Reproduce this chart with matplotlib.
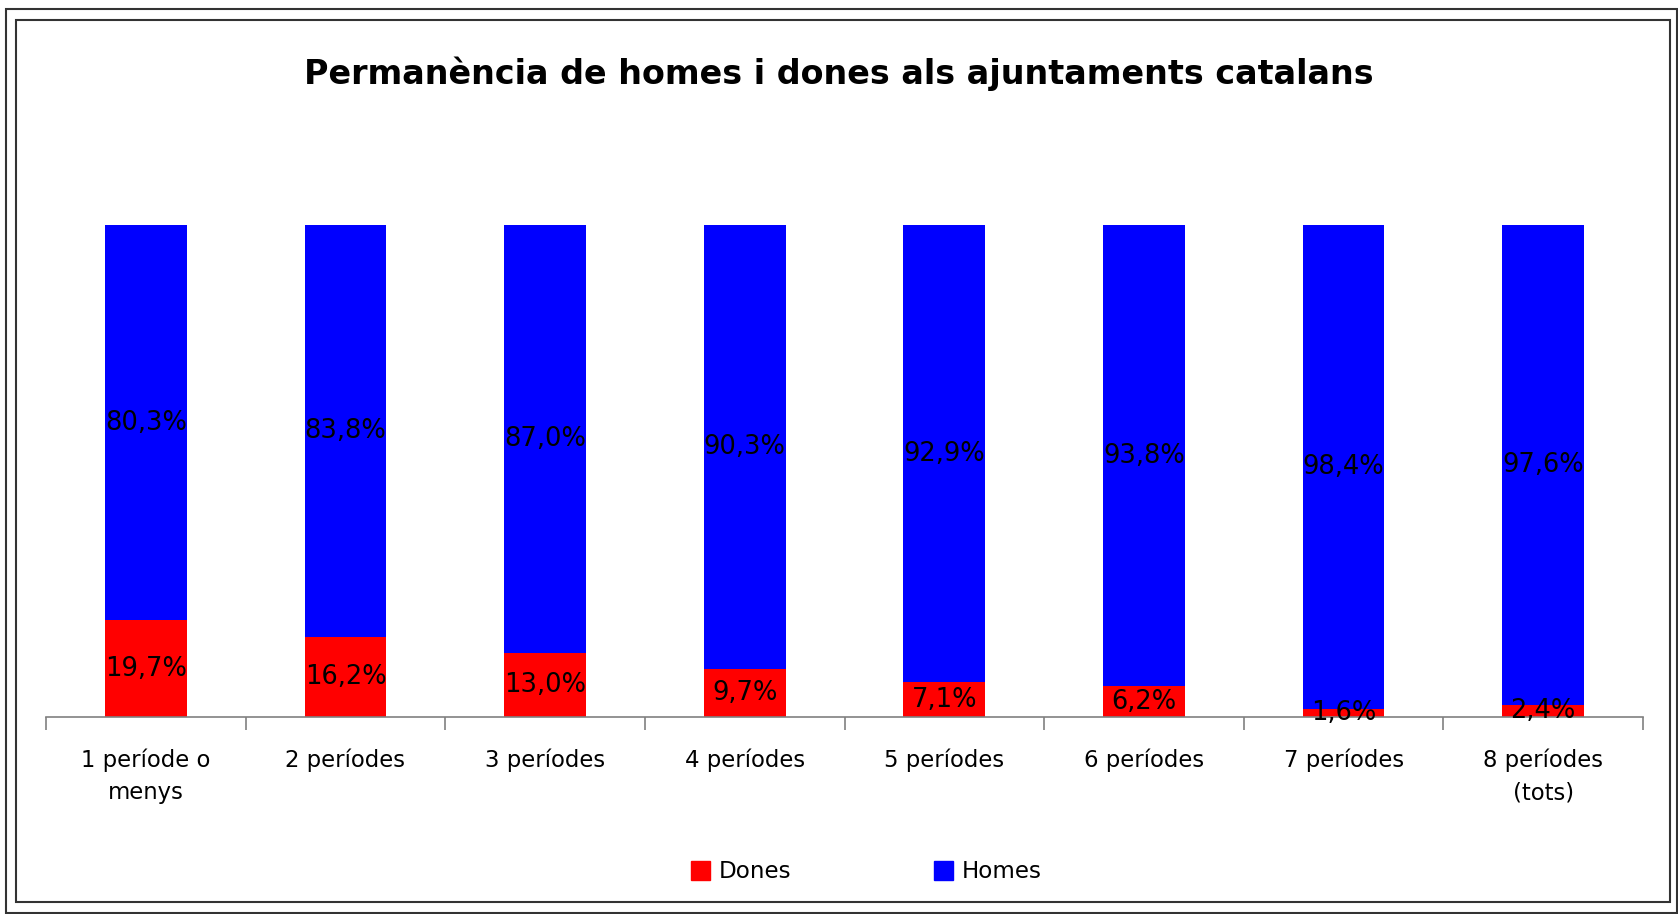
import matplotlib
matplotlib.use("Agg")
import matplotlib.pyplot as plt
from matplotlib.patches import Rectangle, Patch
import numpy as np

categories = ["1 període o\nmenys", "2 períodes", "3 períodes", "4 períodes",
              "5 períodes", "6 períodes", "7 períodes", "8 períodes\n(tots)"]
dones = [19.7, 16.2, 13.0, 9.7, 7.1, 6.2, 1.6, 2.4]
homes = [80.3, 83.8, 87.0, 90.3, 92.9, 93.8, 98.4, 97.6]
title = "Permanència de homes i dones als ajuntaments catalans"

W, H = 1678, 914
fig = plt.figure(figsize=(W / 100, H / 100), dpi=100)
plt.rcParams['font.family'] = ['DejaVu Sans']

# borders
fig.patches.append(Rectangle((6 / W, 1 - 913 / H), (1677 - 6) / W, (913 - 9) / H,
                             transform=fig.transFigure, fill=False, ec="#333333", lw=1.5))
fig.patches.append(Rectangle((16 / W, 1 - 902 / H), (1670 - 16) / W, (902 - 20) / H,
                             transform=fig.transFigure, fill=False, ec="#333333", lw=1.5))

left, right, top, bottom = 46, 1643, 225, 717
ax = fig.add_axes([left / W, 1 - bottom / H, (right - left) / W, (bottom - top) / H])

x = np.arange(len(categories))
d = np.array(dones) / 100
h = np.array(homes) / 100
bw = 0.41
ax.bar(x, d, bw, color="#FF0000", label="Dones")
ax.bar(x, h, bw, bottom=d, color="#0000FF", label="Homes")

dfs = 18.5
for i in range(len(x)):
    ax.text(x[i], d[i] / 2, f"{dones[i]:.1f}%".replace(".", ","), ha="center", va="center", fontsize=dfs)
    ax.text(x[i], d[i] + h[i] / 2, f"{homes[i]:.1f}%".replace(".", ","), ha="center", va="center", fontsize=dfs)

fs = 16.4
ax.set_xlim(-0.5, len(categories) - 0.5)
ax.set_ylim(0, 1)
for s in ["top", "right", "left"]:
    ax.spines[s].set_visible(False)
ax.spines["bottom"].set_color("#808080")
ax.spines["bottom"].set_linewidth(1.2)
ax.set_yticks([])
ax.set_xticks(x)
ax.set_xticklabels(categories, fontsize=fs, linespacing=1.5)
ax.tick_params(axis="x", which="major", length=0, pad=23)
ax.set_xticks(np.arange(-0.5, len(categories), 1.0), minor=True)
ax.tick_params(axis="x", which="minor", length=9, color="#808080", width=1.2, direction="out")

fig.text(0.5, 1 - 74 / H, title, ha="center", va="center", fontsize=24, fontweight="bold")

handles = [Patch(color="#FF0000", label="Dones"), Patch(color="#0000FF", label="Homes")]
fig.legend(handles=handles, loc="center", bbox_to_anchor=(866 / W, 1 - 872 / H), ncol=2,
           frameon=False, fontsize=16.6, handlelength=0.85, handleheight=0.85,
           handletextpad=0.35, columnspacing=6.2)

fig.savefig("out.png", dpi=100)
